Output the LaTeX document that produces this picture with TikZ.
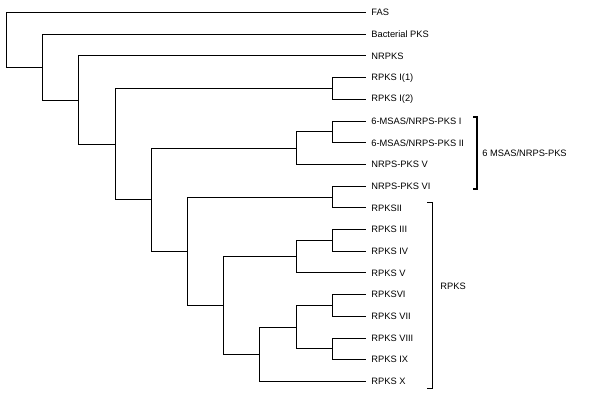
\documentclass[tikz,border=0pt]{standalone}
\usepackage{fontspec}
\setmainfont{Liberation Sans}
\usepackage{tikz}

\begin{document}
\begin{tikzpicture}[x=1pt, y=-1pt, line width=0.9pt,
  leaf/.style={anchor=west, inner xsep=5pt, inner ysep=0pt, font=\fontsize{9.3pt}{11pt}\selectfont},
  branch/.style={draw, line join=miter}]%
\useasboundingbox (0,0) rectangle (600,410);%
% leaves
\node[leaf] (fas) at (366, 12.5) {FAS};%
\node[leaf] (bact) at (366, 34.2) {Bacterial PKS};%
\node[leaf] (nrpks) at (366, 55.9) {NRPKS};%
\node[leaf] (ri1) at (366, 77.6) {RPKS I(1)};%
\node[leaf] (ri2) at (366, 99.3) {RPKS I(2)};%
\node[leaf] (msas1) at (366, 121.0) {6-MSAS/NRPS-PKS I};%
\node[leaf] (msas2) at (366, 142.7) {6-MSAS/NRPS-PKS II};%
\node[leaf] (npv) at (366, 164.4) {NRPS-PKS V};%
\node[leaf] (npvi) at (366, 186.1) {NRPS-PKS VI};%
\node[leaf] (r2) at (366, 207.8) {RPKSII};%
\node[leaf] (r3) at (366, 229.5) {RPKS III};%
\node[leaf] (r4) at (366, 251.2) {RPKS IV};%
\node[leaf] (r5) at (366, 272.9) {RPKS V};%
\node[leaf] (r6) at (366, 294.6) {RPKSVI};%
\node[leaf] (r7) at (366, 316.3) {RPKS VII};%
\node[leaf] (r8) at (366, 338.0) {RPKS VIII};%
\node[leaf] (r9) at (366, 359.7) {RPKS IX};%
\node[leaf] (r10) at (366, 381.4) {RPKS X};%
% inner nodes
\coordinate (root) at (6, 39.8);%
\coordinate (n1) at (42, 67.1);%
\coordinate (n2) at (78, 100.0);%
\coordinate (n3) at (115, 144.05);%
\coordinate (nri) at (332, 88.45);%
\coordinate (n4) at (151, 199.65);%
\coordinate (n5) at (296, 148.1);%
\coordinate (n6) at (332, 131.85);%
\coordinate (n7) at (187, 251.2);%
\coordinate (n8) at (332, 196.95);%
\coordinate (n9) at (223, 305.45);%
\coordinate (n10) at (296, 256.6);%
\coordinate (n11) at (332, 240.35);%
\coordinate (n12) at (259, 354.3);%
\coordinate (n13) at (296, 327.15);%
\coordinate (n14) at (332, 305.45);%
\coordinate (n15) at (332, 348.85);%
% branches
\path[branch] (root) |- (fas.west) (root) |- (n1);%
\path[branch] (n1) |- (bact.west) (n1) |- (n2);%
\path[branch] (n2) |- (nrpks.west) (n2) |- (n3);%
\path[branch] (n3) |- (nri) (n3) |- (n4);%
\path[branch] (nri) |- (ri1.west) (nri) |- (ri2.west);%
\path[branch] (n4) |- (n5) (n4) |- (n7);%
\path[branch] (n5) |- (n6) (n5) |- (npv.west);%
\path[branch] (n6) |- (msas1.west) (n6) |- (msas2.west);%
\path[branch] (n7) |- (n8) (n7) |- (n9);%
\path[branch] (n8) |- (npvi.west) (n8) |- (r2.west);%
\path[branch] (n9) |- (n10) (n9) |- (n12);%
\path[branch] (n10) |- (n11) (n10) |- (r5.west);%
\path[branch] (n11) |- (r3.west) (n11) |- (r4.west);%
\path[branch] (n12) |- (n13) (n12) |- (r10.west);%
\path[branch] (n13) |- (n14) (n13) |- (n15);%
\path[branch] (n14) |- (r6.west) (n14) |- (r7.west);%
\path[branch] (n15) |- (r8.west) (n15) |- (r9.west);%
% groups
\draw[line width=1.6pt] (473, 117) -- (477, 117) -- (477, 189) -- (473, 189);%
\node[leaf, inner xsep=4pt] (msasgroup) at (478, 153) {6 MSAS/NRPS-PKS};%
\draw (427, 202) -- (432, 202) -- (432, 388) -- (427, 388);%
\node[leaf, inner xsep=4pt] (rpksgroup) at (436, 286) {RPKS};%
\end{tikzpicture}
\end{document}
